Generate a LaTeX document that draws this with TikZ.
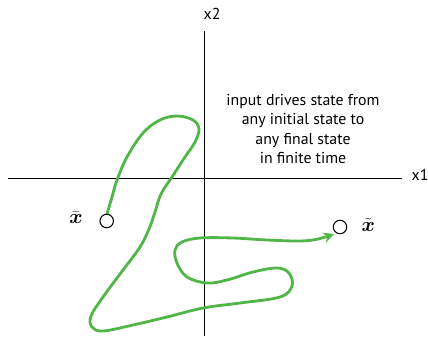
\documentclass[tikz,border=0pt]{standalone}
\usepackage{amsmath,amssymb}
\usepackage{fontspec}
\setmainfont{PT Sans}
\usepackage{xcolor}
\usepackage{tikz}
\usetikzlibrary{positioning,arrows.meta}
\definecolor{TRgreen}{RGB}{80,182,72}

\begin{document}
\begin{tikzpicture}[
  x=0.03cm,y=-0.03cm,
  axis/.style={draw=black,line width=0.8pt},
  lbl/.style={font=\fontsize{13.5}{16.6}\selectfont,align=center,inner sep=0pt},
  state/.style={circle,draw=black,fill=white,line width=0.9pt,minimum size=11.5pt,inner sep=0pt},
  statelbl/.style={font=\fontsize{19}{22}\selectfont,inner sep=0pt},
  traj/.style={draw=TRgreen,line width=2.4pt,line cap=round,-{Stealth[length=9pt,width=9pt]}},
]
\useasboundingbox (0,0) rectangle (428,336);

% Ejes
\coordinate (xl) at (8,178);
\coordinate (xr) at (402,178);
\coordinate (yt) at (204.5,31);
\coordinate (yb) at (204.5,336);
\draw[axis] (xl) -- (xr);
\draw[axis] (yt) -- (yb);
\node[lbl] (x1) at (420,175) {x1};
\node[lbl] (x2) at (212,14) {x2};

% Texto
\node[lbl] (note) at (303,129) {input drives state from\\any initial state to\\any final state\\in finite time};

% Trayectoria
\coordinate (tip) at (334,234);
\draw[traj] plot[smooth,tension=0.6] coordinates {
  (106.7,215) (112,197) (117,180) (127,157) (143,133) (160,120) (177,116)
  (193,120) (199,129) (195,142) (185,157) (172,177) (161,194) (155,212)
  (149,229) (140,247) (123,270) (103,297) (91,316) (92,327) (103,331)
  (133,325) (167,317) (203,308) (240,303) (280,297) (292,286) (289,273)
  (277,268) (253,272) (227,280) (207,283) (187,277) (177,263) (175,250)
  (182,242) (200,238) (233,238) (267,240) (300,241) (318,239) (tip)};

% Estados
\node[state] (xbar) at (106.7,221) {};
\node[state] (xtilde) at (340,227) {};
\node[statelbl,left=14pt of xbar,yshift=3pt] (xbarlbl) {$\bar{\boldsymbol{x}}$};
\node[statelbl,right=12pt of xtilde,yshift=2pt] (xtildelbl) {$\tilde{\boldsymbol{x}}$};

\end{tikzpicture}
\end{document}
